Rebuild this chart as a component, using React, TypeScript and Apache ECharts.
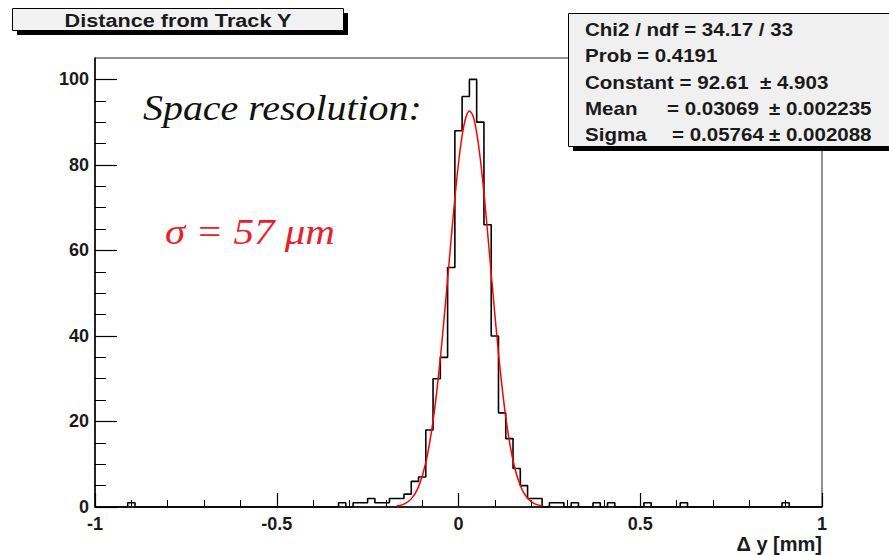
import React, { useEffect, useRef } from "react";
import * as echarts from "echarts";

// Histogram: bin centres (populated bins only) and their entries
const binCenters = [
  -0.9, -0.32, -0.28, -0.26, -0.24, -0.22, -0.2, -0.18, -0.16, -0.14, -0.12, -0.1,
  -0.08, -0.06, -0.04, -0.02, 0.0, 0.02, 0.04, 0.06, 0.08, 0.1, 0.12, 0.14, 0.16,
  0.18, 0.2, 0.22, 0.26, 0.28, 0.32, 0.38, 0.42, 0.52, 0.62, 0.9,
];
const binCounts = [
  1, 1, 1, 1, 2, 1, 1, 2, 2, 3, 6, 7,
  18, 30, 35, 56, 88, 96, 100, 90, 66, 40, 22, 16, 9,
  5, 2, 2, 1, 1, 1, 1, 1, 1, 1, 1,
];
const binWidth = 0.02;
const xMin = -1;
const xMax = 1;
const yMax = 105;

// Gaussian fit curve
const fitX = [
  -0.17, -0.15, -0.13, -0.11, -0.09, -0.07, -0.05, -0.03, -0.02, -0.01, 0.0, 0.01,
  0.02, 0.03, 0.04, 0.05, 0.06, 0.07, 0.08, 0.09, 0.11, 0.13, 0.15, 0.17, 0.19, 0.21, 0.23,
];
const fitY = [
  0.22, 0.68, 1.9, 4.71, 10.34, 20.14, 34.77, 53.2, 62.91, 72.19, 80.38, 86.83,
  91.03, 92.6, 91.41, 87.56, 81.38, 73.39, 64.22, 54.55, 35.93, 20.99, 10.87, 4.99, 2.03, 0.73, 0.23,
];

const yMajorTicks = [0, 20, 40, 60, 80, 100];
const yMinorTicks = [5, 10, 15, 25, 30, 35, 45, 50, 55, 65, 70, 75, 85, 90, 95];

const titleText = "Distance from Track Y";
const xAxisTitle = "Δ y [mm]";
const statsLabels = ["Chi2 / ndf = 34.17 / 33", "Prob", "Constant = 92.61", "Mean", "Sigma"];
const statsValues = ["", "= 0.4191", "", "= 0.03069", "= 0.05764"];
const statsErrors = ["", "", "± 4.903", "± 0.002235", "± 0.002088"];
const noteText = "Space resolution:";
const sigmaText = "σ = 57 μm";

const SANS = '"Liberation Sans", Arial, Helvetica, sans-serif';
const SERIF = '"Liberation Serif", "Times New Roman", serif';

export default function App() {
  const ref = useRef<HTMLDivElement>(null);

  useEffect(() => {
    document.body.style.margin = "0";
    const chart = echarts.init(ref.current!, null, { renderer: "svg" });

    const lookup = new Map<number, number>();
    binCenters.forEach((c, i) => lookup.set(Math.round(c / binWidth), binCounts[i]));
    const first = Math.round(xMin / binWidth);
    const last = Math.round(xMax / binWidth);
    const histData: number[][] = [];
    for (let k = first; k <= last; k++) {
      histData.push([+(k * binWidth).toFixed(2), lookup.get(k) ?? 0]);
    }
    const fitData = fitX.map((x, i) => [x, fitY[i]]);

    const statsY = [30, 56.3, 82.5, 108.7, 134.9];
    const valueX = [0, 637, 0, 667, 672];
    const errX = [0, 0, 760, 769, 769];
    const statTexts: any[] = [];
    const statStyle = (text: string) => ({
      text, font: `bold 18px ${SANS}`, fill: "#1a1a1a", textVerticalAlign: "middle", verticalAlign: "middle",
    });
    statsLabels.forEach((t, i) => {
      statTexts.push({ type: "text", x: 585, y: statsY[i], scaleX: 1.14, z: 103, style: statStyle(t) });
      if (statsValues[i]) {
        statTexts.push({ type: "text", x: valueX[i], y: statsY[i], scaleX: 1.14, z: 103, style: statStyle(statsValues[i]) });
      }
      if (statsErrors[i]) {
        statTexts.push({ type: "text", x: errX[i], y: statsY[i], scaleX: 1.14, z: 103, style: statStyle(statsErrors[i]) });
      }
    });

    const axisLabelStyle = { color: "#1a1a1a", fontSize: 18, fontWeight: "bold", fontFamily: SANS };

    chart.setOption({
      animation: false,
      backgroundColor: "#ffffff",
      grid: {
        left: 95, top: 58, right: 67, bottom: 48,
        show: true, borderColor: "#222", borderWidth: 1, backgroundColor: "transparent",
        containLabel: false, outerBoundsMode: "none",
      },
      xAxis: {
        type: "value", min: xMin, max: xMax, interval: 0.5,
        axisLine: { show: true, onZero: false, lineStyle: { color: "#000", width: 1.5 } },
        axisTick: { show: true, inside: true, length: 14, lineStyle: { color: "#000", width: 1.2 } },
        minorTick: { show: true, splitNumber: 5, length: 7, lineStyle: { color: "#000", width: 1 } },
        splitLine: { show: false },
        minorSplitLine: { show: false },
        axisLabel: { ...axisLabelStyle, margin: 8 },
        name: xAxisTitle,
        nameLocation: "end",
        nameGap: 0,
        nameTextStyle: {
          align: "right", verticalAlign: "top", padding: [27, 0, 0, 0],
          fontSize: 20, fontWeight: "bold", color: "#1a1a1a", fontFamily: SANS,
        },
      },
      yAxis: [
        {
          type: "value", min: 0, max: yMax, position: "left",
          axisLine: { show: true, onZero: false, lineStyle: { color: "#000", width: 1.5 } },
          axisTick: { show: true, inside: true, length: 22, customValues: yMajorTicks, lineStyle: { color: "#000", width: 1.2 } },
          axisLabel: { ...axisLabelStyle, margin: 6, customValues: yMajorTicks },
          splitLine: { show: false },
        },
        {
          type: "value", min: 0, max: yMax, position: "left", offset: 0,
          axisLine: { show: false, onZero: false },
          axisTick: { show: true, inside: true, length: 11, customValues: yMinorTicks, lineStyle: { color: "#000", width: 1 } },
          axisLabel: { show: false },
          splitLine: { show: false },
        },
      ],
      series: [
        {
          type: "line", step: "middle", data: histData, symbol: "none", showSymbol: false,
          lineStyle: { color: "#000", width: 1.6 }, clip: true, z: 3,
        },
        {
          type: "line", data: fitData, smooth: 0.3, symbol: "none", showSymbol: false,
          lineStyle: { color: "#ff0000", width: 1.5 }, clip: true, z: 4,
        },
      ],
      graphic: [
        { type: "rect", z: 100, shape: { x: 17, y: 13, width: 331, height: 22 }, style: { fill: "#000" } },
        { type: "rect", z: 101, shape: { x: 12.5, y: 8.5, width: 331, height: 22 }, style: { fill: "#f2f2f2", stroke: "#000", lineWidth: 1 } },
        {
          type: "text", x: 178, y: 20, scaleX: 1.14, z: 102,
          style: {
            text: titleText, font: `bold 19px ${SANS}`, fill: "#1a1a1a",
            textAlign: "center", align: "center", textVerticalAlign: "middle", verticalAlign: "middle",
          },
        },
        { type: "rect", z: 100, shape: { x: 573, y: 18, width: 325, height: 133 }, style: { fill: "#000" } },
        { type: "rect", z: 101, shape: { x: 568.5, y: 13.5, width: 325, height: 133 }, style: { fill: "#f0f0f0", stroke: "#000", lineWidth: 1 } },
        ...statTexts,
        {
          type: "text", x: 143, y: 108, scaleX: 1.14, z: 50,
          style: { text: noteText, font: `italic 35px ${SERIF}`, fill: "#111", textVerticalAlign: "middle", verticalAlign: "middle" },
        },
        {
          type: "text", x: 165, y: 232, scaleX: 1.14, z: 50,
          style: { text: sigmaText, font: `italic 36px ${SERIF}`, fill: "#e8202a", textVerticalAlign: "middle", verticalAlign: "middle" },
        },
      ],
    });

    return () => chart.dispose();
  }, []);

  return (
    <div
      ref={ref}
      style={{ position: "fixed", left: 0, top: 0, width: 889, height: 555, background: "#fff" }}
    />
  );
}
